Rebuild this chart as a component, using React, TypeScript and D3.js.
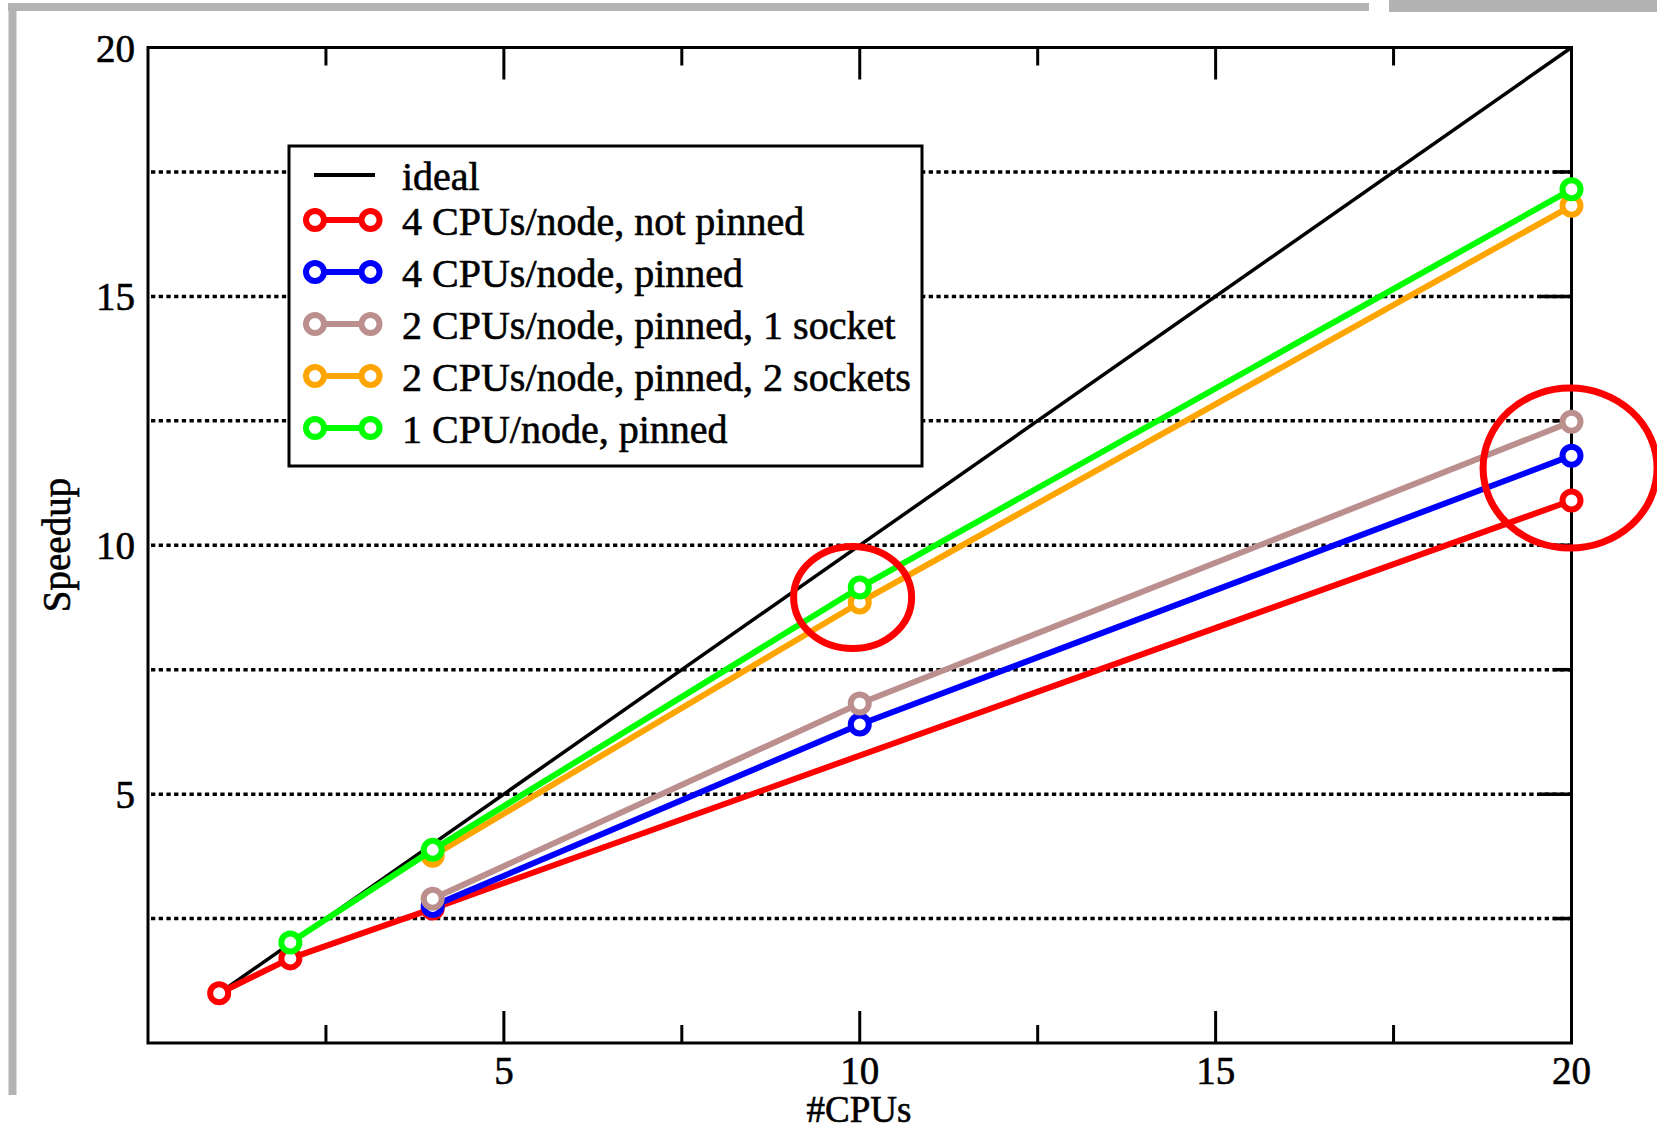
import React from "react";
import * as d3 from "d3";

// ---- data ----
const idealX = [1, 20];
const idealY = [1, 20];

const redX = [1, 2, 4, 20];
const redY = [1.0, 1.7, 2.7, 10.9];

const blueX = [4, 10, 20];
const blueY = [2.75, 6.4, 11.8];

const brownX = [4, 10, 20];
const brownY = [2.9, 6.82, 12.48];

const orangeX = [4, 10, 20];
const orangeY = [3.76, 8.85, 16.82];

const greenX = [2, 4, 10, 20];
const greenY = [2.02, 3.88, 9.15, 17.15];

const seriesNames = [
  "4 CPUs/node, not pinned",
  "4 CPUs/node, pinned",
  "2 CPUs/node, pinned, 1 socket",
  "2 CPUs/node, pinned, 2 sockets",
  "1 CPU/node, pinned",
];
const seriesColors = ["#ff0000", "#0000ff", "#bc8f8f", "#ffa500", "#00ff00"];

const xTickLabels = [5, 10, 15, 20];
const yTickLabels = [5, 10, 15, 20];
const majorTicks = [5, 10, 15];
const minorTicks = [2.5, 7.5, 12.5, 17.5];
const gridValues = [2.5, 5, 7.5, 10, 12.5, 15, 17.5];

// annotation ellipses (data-space centres)
const annotations = [
  { cx: 9.9, cy: 8.95, rx: 59, ry: 51 },
  { cx: 19.98, cy: 11.55, rx: 87, ry: 80 },
];

const W = 1657;
const H = 1134;
const L = 148, R = 1571.5, T = 47.5, B = 1043;
const FONT = "'Liberation Serif', 'Times New Roman', serif";
const LW = 6;
const MR = 9;

export default function App() {
  const x = d3.scaleLinear().domain([0, 20]).range([L, R]);
  const y = d3.scaleLinear().domain([0, 20]).range([B, T]);
  const line = d3
    .line<[number, number]>()
    .x((d) => x(d[0]))
    .y((d) => y(d[1]));

  const zip = (xs: number[], ys: number[]) =>
    xs.map((v, i) => [v, ys[i]] as [number, number]);

  const series = [
    zip(redX, redY),
    zip(blueX, blueY),
    zip(brownX, brownY),
    zip(orangeX, orangeY),
    zip(greenX, greenY),
  ];

  const legendRows = [220, 272, 324, 376, 428];
  const textProps = { fill: "#000", stroke: "#000", strokeWidth: 0.6 };

  return (
    <svg
      width={W}
      height={H}
      style={{ position: "absolute", left: 0, top: 0, display: "block", background: "#fff" }}
      fontFamily={FONT}
    >
      <rect x={0} y={0} width={W} height={H} fill="#fff" />
      {/* grey page borders */}
      <rect x={8} y={3} width={1361} height={8} fill="#b3b3b3" />
      <rect x={1389} y={0} width={268} height={12} fill="#b3b3b3" />
      <rect x={8.5} y={3} width={8} height={1092} fill="#b3b3b3" />

      {/* grid lines */}
      {gridValues.map((g) => (
        <line
          key={"g" + g}
          x1={L + 3}
          x2={R}
          y1={y(g)}
          y2={y(g)}
          stroke="#000"
          strokeWidth={3.5}
          strokeDasharray="4.3 3.4"
        />
      ))}

      {/* right-side y ticks */}
      {majorTicks.map((t) => (
        <line key={"ry" + t} x1={R - 32} x2={R} y1={y(t)} y2={y(t)} stroke="#000" strokeWidth={3.5} />
      ))}
      {minorTicks.map((t) => (
        <line key={"rym" + t} x1={R - 18} x2={R} y1={y(t)} y2={y(t)} stroke="#000" strokeWidth={3.5} />
      ))}

      {/* x ticks top & bottom */}
      {majorTicks.map((t) => (
        <g key={"xt" + t}>
          <line x1={x(t)} x2={x(t)} y1={T} y2={T + 32} stroke="#000" strokeWidth={3} />
          <line x1={x(t)} x2={x(t)} y1={B} y2={B - 32} stroke="#000" strokeWidth={3} />
        </g>
      ))}
      {minorTicks.map((t) => (
        <g key={"xtm" + t}>
          <line x1={x(t)} x2={x(t)} y1={T} y2={T + 18} stroke="#000" strokeWidth={3} />
          <line x1={x(t)} x2={x(t)} y1={B} y2={B - 18} stroke="#000" strokeWidth={3} />
        </g>
      ))}

      {/* frame */}
      <rect x={L} y={T} width={R - L} height={B - T} fill="none" stroke="#000" strokeWidth={3} />

      {/* tick labels */}
      {xTickLabels.map((t) => (
        <text key={"xl" + t} x={x(t)} y={1084} fontSize={39} textAnchor="middle" {...textProps}>
          {t}
        </text>
      ))}
      {yTickLabels.map((t) => (
        <text key={"yl" + t} x={135} y={y(t) + 14} fontSize={39} textAnchor="end" {...textProps}>
          {t}
        </text>
      ))}

      {/* axis titles */}
      <text x={859} y={1122} fontSize={37} textAnchor="middle" {...textProps}>
        #CPUs
      </text>
      <text
        transform={`translate(70,545) rotate(-90)`}
        fontSize={39}
        textAnchor="middle"
        {...textProps}
      >
        Speedup
      </text>

      {/* ideal */}
      <path d={line(zip(idealX, idealY)) || ""} fill="none" stroke="#000" strokeWidth={3.5} />

      {/* series */}
      {series.map((pts, i) => (
        <g key={"s" + i}>
          <path
            d={line(pts) || ""}
            fill="none"
            stroke={seriesColors[i]}
            strokeWidth={LW}
            strokeLinejoin="round"
          />
          {pts.map((p, j) => (
            <circle
              key={j}
              cx={x(p[0])}
              cy={y(p[1])}
              r={MR}
              fill="#fff"
              stroke={seriesColors[i]}
              strokeWidth={LW}
            />
          ))}
        </g>
      ))}

      {/* legend */}
      <rect x={289} y={146} width={633} height={320} fill="#fff" stroke="#000" strokeWidth={3} />
      <line x1={314} x2={375} y1={175} y2={175} stroke="#000" strokeWidth={4} />
      <text x={402} y={190} fontSize={40} {...textProps}>
        ideal
      </text>
      {seriesNames.map((name, i) => (
        <g key={"lg" + i}>
          <line
            x1={315}
            x2={370.5}
            y1={legendRows[i]}
            y2={legendRows[i]}
            stroke={seriesColors[i]}
            strokeWidth={LW}
          />
          <circle cx={315} cy={legendRows[i]} r={MR} fill="#fff" stroke={seriesColors[i]} strokeWidth={LW} />
          <circle cx={370.5} cy={legendRows[i]} r={MR} fill="#fff" stroke={seriesColors[i]} strokeWidth={LW} />
          <text x={402} y={legendRows[i] + 15} fontSize={40} {...textProps}>
            {name}
          </text>
        </g>
      ))}

      {/* annotation ellipses */}
      {annotations.map((a, i) => (
        <ellipse
          key={"an" + i}
          cx={x(a.cx)}
          cy={y(a.cy)}
          rx={a.rx}
          ry={a.ry}
          fill="none"
          stroke="#ff0000"
          strokeWidth={7}
        />
      ))}
    </svg>
  );
}
